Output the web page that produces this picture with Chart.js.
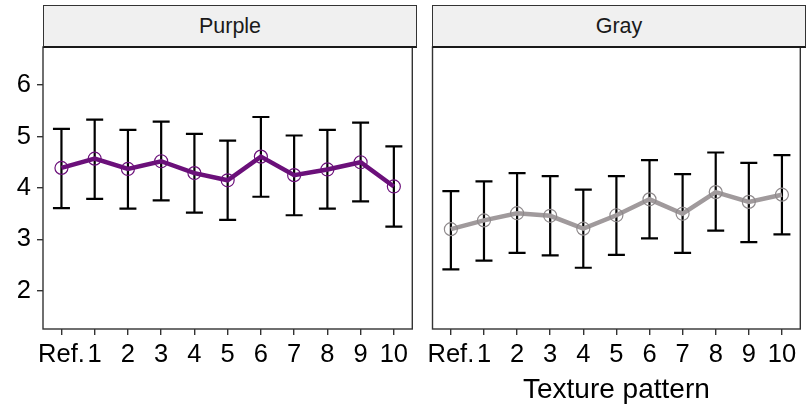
<!DOCTYPE html>
<html>
<head>
<meta charset="utf-8">
<script src="https://cdn.jsdelivr.net/npm/chart.js@4"></script>
<style>
  html, body { margin: 0; padding: 0; background: #fff; }
  #wrap { position: relative; width: 808px; height: 407px; overflow: hidden; font-family: "Liberation Sans", Arial, sans-serif; }
  canvas { position: absolute; top: 0; }
  .strip { position: absolute; top: 5px; height: 40px; background: #f0f0f0; border: 1px solid #333; border-bottom: 2px solid #1a1a1a;
           box-sizing: content-box; text-align: center; line-height: 40px; font-size: 21.5px; color: #1a1a1a; }
</style>
</head>
<body>
<div id="wrap">
  <canvas id="c1" width="420" height="407" style="left:0;width:420px;height:407px"></canvas>
  <canvas id="c2" width="388" height="407" style="left:420px;width:388px;height:407px"></canvas>
  <div class="strip" style="left:43px;width:372px">Purple</div>
  <div class="strip" style="left:432px;width:372px">Gray</div>
</div>
<script>
// ---- data ----
const categories = ["Ref.", "1", "2", "3", "4", "5", "6", "7", "8", "9", "10"];
const purpleMean = [4.39, 4.57, 4.37, 4.52, 4.29, 4.15, 4.61, 4.25, 4.36, 4.50, 4.03];
const purpleLow  = [3.61, 3.79, 3.60, 3.76, 3.52, 3.38, 3.83, 3.47, 3.60, 3.74, 3.25];
const purpleHigh = [5.15, 5.33, 5.13, 5.29, 5.05, 4.92, 5.38, 5.02, 5.13, 5.27, 4.81];
const grayMean = [3.20, 3.37, 3.51, 3.46, 3.21, 3.47, 3.78, 3.50, 3.92, 3.73, 3.87];
const grayLow  = [2.42, 2.59, 2.74, 2.69, 2.45, 2.70, 3.02, 2.74, 3.17, 2.95, 3.10];
const grayHigh = [3.94, 4.13, 4.29, 4.23, 3.97, 4.23, 4.54, 4.27, 4.69, 4.49, 4.64];
const yTicks = [2, 3, 4, 5, 6];
const xTitle = "Texture pattern";

const FONT = "'Liberation Sans', Arial, sans-serif";

const errorBars = {
  id: 'errorBars',
  beforeDatasetsDraw(chart) {
    const ctx = chart.ctx, xs = chart.scales.x, ys = chart.scales.y;
    chart.data.datasets.forEach(ds => {
      if (!ds.errLow) return;
      ctx.save();
      ctx.strokeStyle = '#000';
      ctx.lineWidth = 2.2;
      ds.data.forEach((p, i) => {
        const x = xs.getPixelForValue(p.x);
        const y1 = ys.getPixelForValue(ds.errLow[i]);
        const y2 = ys.getPixelForValue(ds.errHigh[i]);
        const w = 8.5;
        ctx.beginPath();
        ctx.moveTo(x, y1); ctx.lineTo(x, y2);
        ctx.moveTo(x - w, y1); ctx.lineTo(x + w, y1);
        ctx.moveTo(x - w, y2); ctx.lineTo(x + w, y2);
        ctx.stroke();
      });
      ctx.restore();
    });
  }
};

const panelBorder = {
  id: 'panelBorder',
  afterDraw(chart) {
    const a = chart.chartArea, ctx = chart.ctx;
    ctx.save();
    ctx.strokeStyle = '#333';
    ctx.lineWidth = 1.4;
    ctx.strokeRect(a.left, a.top, a.right - a.left, a.bottom - a.top);
    ctx.restore();
  }
};

function makeChart(id, means, lows, highs, color, ptColor, showY, yWidth, showTitle, pad) {
  return new Chart(document.getElementById(id), {
    type: 'line',
    data: {
      datasets: [{
        data: means.map((v, i) => ({ x: i, y: v })),
        errLow: lows, errHigh: highs,
        borderColor: color,
        borderWidth: 4.5,
        pointRadius: 6.5,
        pointBorderWidth: 1.2,
        pointBorderColor: ptColor,
        pointBackgroundColor: 'rgba(0,0,0,0)',
        tension: 0
      }]
    },
    options: {
      responsive: false,
      animation: false,
      devicePixelRatio: 1,
      layout: { padding: pad },
      plugins: { legend: { display: false }, tooltip: { enabled: false } },
      scales: {
        x: {
          type: 'linear',
          min: -0.555, max: 10.555,
          afterBuildTicks: s => { s.ticks = categories.map((_, i) => ({ value: i })); },
          afterFit: s => { s.height = 78; },
          grid: { drawOnChartArea: false, drawTicks: true, tickLength: 6, color: '#333', lineWidth: 1.4 },
          border: { display: false },
          ticks: { autoSkip: false, maxRotation: 0, padding: 5, color: '#000',
                   font: { family: FONT, size: 25.5 },
                   callback: v => categories[v] },
          title: { display: showTitle, text: xTitle, color: '#000',
                   font: { family: FONT, size: 28 }, padding: { top: 0, bottom: 0 } }
        },
        y: {
          display: showY,
          min: 1.26, max: 6.74,
          afterBuildTicks: s => { s.ticks = yTicks.map(v => ({ value: v })); },
          afterFit: s => { s.width = yWidth; },
          grid: { drawOnChartArea: false, drawTicks: true, tickLength: 6, color: '#333', lineWidth: 1.4 },
          border: { display: false },
          ticks: { padding: 6, color: '#000', font: { family: FONT, size: 25.5 } }
        }
      }
    },
    plugins: [errorBars, panelBorder]
  });
}

makeChart('c1', purpleMean, purpleLow, purpleHigh, '#6b107a', '#6b107a', true, 43, false,
          { top: 47, right: 4, left: 0, bottom: 0 });
makeChart('c2', grayMean, grayLow, grayHigh, '#a09a9c', '#8f8a8c', false, 0, true,
          { top: 47, right: 3.5, left: 12.5, bottom: 0 });
</script>
</body>
</html>
